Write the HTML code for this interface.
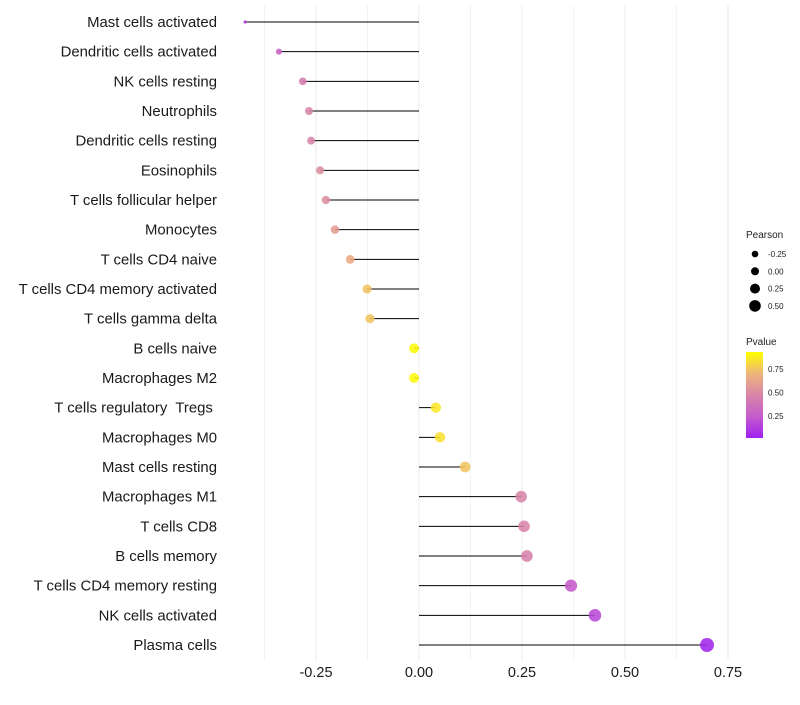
<!DOCTYPE html>
<html><head><meta charset="utf-8"><style>
body{margin:0;background:#fff;font-family:"Liberation Sans",sans-serif}
</style></head><body>
<svg id="c" width="800" height="700" xmlns="http://www.w3.org/2000/svg" font-family="Liberation Sans, sans-serif">
<defs><linearGradient id="pg" x1="0" y1="1" x2="0" y2="0">
<stop offset="0" stop-color="#a020f0"/><stop offset="0.25" stop-color="#c45ccc"/><stop offset="0.5" stop-color="#d885a8"/><stop offset="0.75" stop-color="#eeb57a"/><stop offset="1" stop-color="#ffff00"/></linearGradient></defs>
<g id="grid"></g><g id="marks"></g><g id="labels"></g><g id="legend"></g>
</svg>
<script>
const categories=["Mast cells activated","Dendritic cells activated","NK cells resting","Neutrophils","Dendritic cells resting","Eosinophils","T cells follicular helper","Monocytes","T cells CD4 naive","T cells CD4 memory activated","T cells gamma delta","B cells naive","Macrophages M2","T cells regulatory  Tregs ","Macrophages M0","Mast cells resting","Macrophages M1","T cells CD8","B cells memory","T cells CD4 memory resting","NK cells activated","Plasma cells"];
const pearson=[-0.422,-0.34,-0.282,-0.267,-0.262,-0.24,-0.226,-0.204,-0.167,-0.126,-0.119,-0.012,-0.012,0.041,0.051,0.112,0.248,0.255,0.262,0.369,0.427,0.699];
const pvalues=[0.1,0.3,0.45,0.5,0.5,0.55,0.55,0.62,0.7,0.8,0.8,0.98,0.98,0.92,0.9,0.8,0.5,0.5,0.48,0.25,0.17,0.02];
const xTicks=[-0.25,0,0.25,0.5,0.75];
const xTickLabels=["-0.25","0.00","0.25","0.50","0.75"];
const sizeLegend=[-0.25,0,0.25,0.5];
const sizeLegendLabels=["-0.25","0.00","0.25","0.50"];
const colorLegend=[0.25,0.5,0.75];
const colorLegendLabels=["0.25","0.50","0.75"];

const NS="http://www.w3.org/2000/svg";
const x=v=>419+v*412;
const y=i=>22+i*(623/21);
function r(v){let a=v<-0.27?2.9+(v+0.42)/0.15*(25-0.27*34-2.9):25+34*v;return Math.sqrt(Math.max(2,a));}
const stops=[[160,32,240],[196,92,204],[216,133,168],[238,181,122],[255,255,0]];
function col(p){const t=Math.max(0,Math.min(1,p))*4;const k=Math.min(3,Math.floor(t));const f=t-k;
 const c=stops[k].map((a,j)=>Math.round(a+(stops[k+1][j]-a)*f));return `rgb(${c})`;}
function mk(tag,attrs,parent,text){const e=document.createElementNS(NS,tag);for(const k in attrs)e.setAttribute(k,attrs[k]);if(text!=null)e.textContent=text;document.getElementById(parent).appendChild(e);return e;}

for(let g=-0.375;g<=0.76;g+=0.125){
 const l=mk("line",{x1:x(g),x2:x(g),y1:5,y2:660,stroke:"#ebebeb","stroke-width":Math.abs(g*8%2)<0.01?1:0.6},"grid");
 
 
}
xTicks.forEach((t,i)=>{
 const e=mk("text",{x:x(t),y:677,"text-anchor":"middle","font-size":14.5,fill:"#1a1a1a"},"labels",xTickLabels[i]);
 
 
});
categories.forEach((c,i)=>{
 const t=mk("text",{x:217,y:y(i)+5,"text-anchor":"end","font-size":14.9,fill:"#1a1a1a","xml:space":"preserve",style:"white-space:pre"},"labels",c);
 
 
 const l=mk("line",{x1:x(0),x2:x(pearson[i]),y1:y(i),y2:y(i),stroke:"#000","stroke-width":1},"marks");
 
 
 const p=mk("circle",{cx:x(pearson[i]),cy:y(i),r:r(pearson[i]),fill:col(pvalues[i]),"fill-opacity":0.88},"marks");
 
 
});
const t1=mk("text",{x:746,y:238,"font-size":10,fill:"#222"},"legend","Pearson");


const legR=[3.3,4,5,5.8];
sizeLegend.forEach((v,i)=>{
 const cy=254+i*17.3;
 const c=mk("circle",{cx:755,cy:cy,r:legR[i],fill:"#000"},"legend");
 
 
 const t=mk("text",{x:768,y:cy+3,"font-size":8,fill:"#222"},"legend",sizeLegendLabels[i]);
 
 
});
const t2=mk("text",{x:746,y:345,"font-size":10,fill:"#222"},"legend","Pvalue");


const bar=mk("rect",{x:746,y:352,width:17,height:86,fill:"url(#pg)"},"legend");


const cy=v=>437-(v-0.03)/0.9*85;
colorLegend.forEach((v,i)=>{
 const t=mk("text",{x:768,y:cy(v)+3,"font-size":8,fill:"#222"},"legend",colorLegendLabels[i]);
 
 
});
</script>
</body></html>
